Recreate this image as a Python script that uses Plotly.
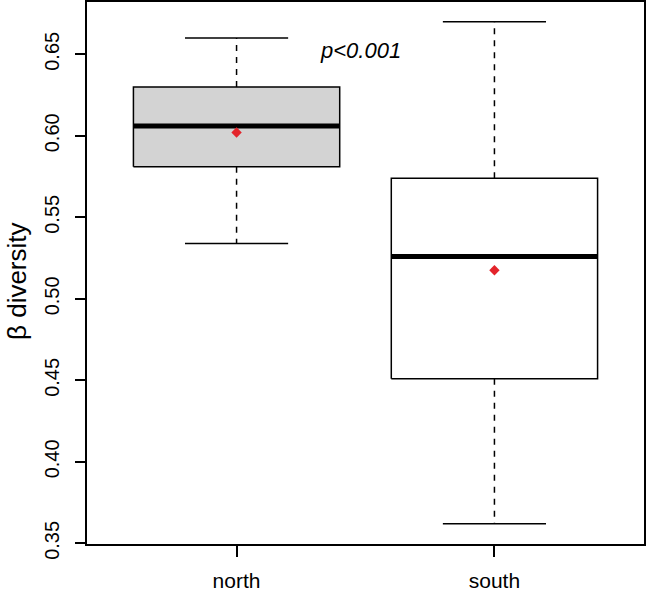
import plotly.graph_objects as go

categories = ["north", "south"]
upper_whisker = [0.660, 0.670]
q3_values = [0.630, 0.574]
median_values = [0.606, 0.526]
q1_values = [0.581, 0.451]
lower_whisker = [0.534, 0.362]
mean_values = [0.602, 0.5175]
box_fills = ["#d3d3d3", "#ffffff"]
y_ticks = [0.35, 0.40, 0.45, 0.50, 0.55, 0.60, 0.65]
p_label = "p<0.001"

FONT = "Liberation Sans, Arial, sans-serif"
fig = go.Figure()

for i, cat in enumerate(categories):
    c = i + 1
    hw, cw = 0.4, 0.2
    # dashed whiskers
    fig.add_trace(go.Scatter(x=[c, c], y=[q3_values[i], upper_whisker[i]], mode="lines",
                             line=dict(color="black", width=1.5, dash="6px,6px"),
                             hoverinfo="skip", showlegend=False))
    fig.add_trace(go.Scatter(x=[c, c], y=[q1_values[i], lower_whisker[i]], mode="lines",
                             line=dict(color="black", width=1.5, dash="6px,6px"),
                             hoverinfo="skip", showlegend=False))
    # caps
    for v in (upper_whisker[i], lower_whisker[i]):
        fig.add_trace(go.Scatter(x=[c - cw, c + cw], y=[v, v], mode="lines",
                                 line=dict(color="black", width=1.5),
                                 hoverinfo="skip", showlegend=False))
    # box
    fig.add_trace(go.Scatter(x=[c - hw, c + hw, c + hw, c - hw, c - hw],
                             y=[q1_values[i], q1_values[i], q3_values[i], q3_values[i], q1_values[i]],
                             mode="lines", fill="toself", fillcolor=box_fills[i],
                             line=dict(color="black", width=1.5),
                             hoverinfo="skip", showlegend=False))
    # median
    fig.add_trace(go.Scatter(x=[c - hw, c + hw], y=[median_values[i], median_values[i]], mode="lines",
                             line=dict(color="black", width=5),
                             hoverinfo="skip", showlegend=False))
    # mean
    fig.add_trace(go.Scatter(x=[c], y=[mean_values[i]], mode="markers",
                             marker=dict(symbol="diamond", size=8, color="#e3242b"),
                             hoverinfo="skip", showlegend=False))

fig.add_annotation(x=1.48, y=0.6525, xref="x", yref="y", text="<i>" + p_label.replace("<", "&lt;") + "</i>",
                   showarrow=False, font=dict(family=FONT, size=22, color="black"),
                   xanchor="center", yanchor="middle")

fig.add_annotation(x=0, y=0.5, xref="paper", yref="paper", text="β diversity",
                   textangle=-90, showarrow=False, xanchor="center", yanchor="middle",
                   xshift=-70, yshift=-8,
                   font=dict(family=FONT, size=26, color="black"))

fig.update_layout(
    width=646, height=591,
    margin=dict(l=87, r=2, t=2, b=47, autoexpand=False),
    plot_bgcolor="white", paper_bgcolor="white",
    font=dict(family=FONT, color="black"),
    xaxis=dict(range=[0.42, 2.58], tickvals=[1, 2], ticktext=categories,
               showgrid=False, zeroline=False, showline=True, mirror=True,
               linecolor="black", linewidth=2, ticks="outside", ticklen=11,
               tickwidth=1.5, tickcolor="black", tickfont=dict(size=21),
               ticklabelstandoff=6, automargin=False),
    yaxis=dict(range=[0.3496, 0.6821], tickvals=y_ticks, tickformat=".2f",
               showgrid=False, zeroline=False, showline=True, mirror=True,
               linecolor="black", linewidth=2, ticks="outside", ticklen=10,
               tickwidth=1.5, tickcolor="black", tickfont=dict(size=20),
               tickangle=-90, ticklabelstandoff=8, automargin=False),
)

fig.write_html("out.html", config={"displayModeBar": False, "responsive": False},
               post_script="document.body.style.margin='0';document.body.style.overflow='hidden';")
